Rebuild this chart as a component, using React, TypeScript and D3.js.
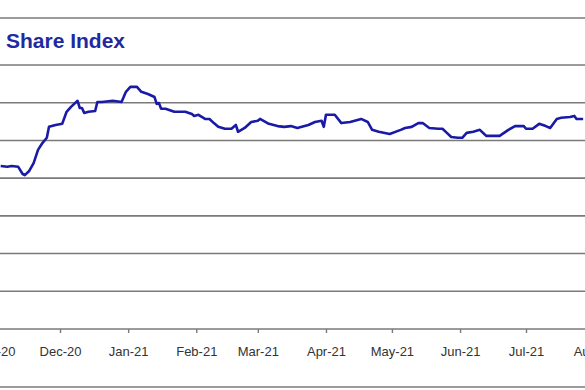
import React, { useEffect, useRef } from "react";
import * as d3 from "d3";

// share index (date, value)
const dates = [
  "2020-11-04", "2020-11-07", "2020-11-09", "2020-11-12", "2020-11-14", "2020-11-15",
  "2020-11-17", "2020-11-19", "2020-11-21", "2020-11-23", "2020-11-25", "2020-11-26",
  "2020-11-29", "2020-12-02", "2020-12-04", "2020-12-06", "2020-12-09", "2020-12-10",
  "2020-12-11", "2020-12-12", "2020-12-14", "2020-12-17", "2020-12-18", "2020-12-20",
  "2020-12-25", "2020-12-29", "2020-12-31", "2021-01-02", "2021-01-05", "2021-01-07",
  "2021-01-10", "2021-01-13", "2021-01-14", "2021-01-15", "2021-01-16", "2021-01-18",
  "2021-01-22", "2021-01-27", "2021-01-30", "2021-01-31", "2021-02-02", "2021-02-05",
  "2021-02-07", "2021-02-09", "2021-02-11", "2021-02-14", "2021-02-17", "2021-02-19",
  "2021-02-20", "2021-02-23", "2021-02-26", "2021-03-01", "2021-03-02", "2021-03-06",
  "2021-03-10", "2021-03-13", "2021-03-16", "2021-03-19", "2021-03-21", "2021-03-24",
  "2021-03-27", "2021-03-30", "2021-03-31", "2021-04-01", "2021-04-05", "2021-04-08",
  "2021-04-12", "2021-04-17", "2021-04-20", "2021-04-22", "2021-04-25", "2021-04-30",
  "2021-05-05", "2021-05-07", "2021-05-10", "2021-05-13", "2021-05-15", "2021-05-18",
  "2021-05-22", "2021-05-24", "2021-05-26", "2021-05-28", "2021-05-31", "2021-06-02",
  "2021-06-04", "2021-06-07", "2021-06-10", "2021-06-12", "2021-06-13", "2021-06-19",
  "2021-06-23", "2021-06-26", "2021-06-30", "2021-07-01", "2021-07-04", "2021-07-07",
  "2021-07-10", "2021-07-12", "2021-07-15", "2021-07-17", "2021-07-21", "2021-07-23",
  "2021-07-24", "2021-07-27",
];
const values = [
  6160, 6150, 6160, 6150, 6055, 6040,
  6095, 6200, 6375, 6465, 6535, 6680,
  6705, 6720, 6880, 6945, 7025, 6930,
  6930, 6865, 6880, 6890, 7010, 7010,
  7025, 7010, 7145, 7210, 7210, 7145,
  7115, 7075, 6985, 6995, 6920, 6920,
  6880, 6880, 6850, 6825, 6840, 6785,
  6785, 6730, 6680, 6655, 6655, 6705,
  6615, 6665, 6745, 6760, 6785, 6720,
  6690, 6680, 6690, 6665, 6680, 6705,
  6745, 6760, 6680, 6840, 6840, 6730,
  6745, 6785, 6745, 6640, 6615, 6585,
  6640, 6665, 6680, 6730, 6730, 6665,
  6655, 6655, 6600, 6545, 6535, 6535,
  6600, 6615, 6640, 6585, 6560, 6560,
  6640, 6690, 6690, 6655, 6655, 6720,
  6690, 6665, 6785, 6800, 6810, 6825,
  6785, 6785,
];
const gridValues = [4000, 4500, 5000, 5500, 6000, 6500, 7000, 7500];
const title = "Share Index";

const W = 585;
const H = 390;

export default function App() {
  const ref = useRef<SVGSVGElement>(null);

  useEffect(() => {
    const svg = d3.select(ref.current);
    svg.selectAll("*").remove();

    const parse = d3.utcParse("%Y-%m-%d");
    const data = dates.map((d, i) => ({ date: parse(d) as Date, value: values[i] }));

    const x = d3.scaleUtc()
      .domain([new Date(Date.UTC(2020, 11, 1)), new Date(Date.UTC(2021, 6, 1))])
      .range([60, 526]);
    const y = d3.scaleLinear().domain([4000, 7500]).range([329, 65]);

    svg.append("rect").attr("width", W).attr("height", H).attr("fill", "#fff");

    // frame lines
    [18, 387].forEach(v => {
      svg.append("line")
        .attr("x1", 0).attr("x2", W)
        .attr("y1", v).attr("y2", v)
        .attr("stroke", "#7a7a7a").attr("stroke-width", 1.6);
    });

    svg.append("text")
      .attr("x", 6)
      .attr("y", 48)
      .attr("fill", "#1f2aa0")
      .style("font-family", "Liberation Sans, Arial, sans-serif")
      .style("font-size", "21px")
      .style("font-weight", "bold")
      .text(title);

    svg.append("g")
      .selectAll("line")
      .data(gridValues)
      .enter()
      .append("line")
      .attr("x1", 0).attr("x2", W)
      .attr("y1", d => y(d)).attr("y2", d => y(d))
      .attr("stroke", "#7a7a7a")
      .attr("stroke-width", 1.6);

    const ticks = d3.utcMonth.range(new Date(Date.UTC(2020, 10, 1)), new Date(Date.UTC(2021, 8, 1)));
    const axis = d3.axisBottom(x)
      .tickValues(ticks)
      .tickSize(4)
      .tickPadding(14)
      .tickFormat(d => d3.utcFormat("%b-%y")(d as Date));
    const g = svg.append("g").attr("transform", `translate(0,${y(4000)})`).call(axis);
    g.select(".domain").remove();
    g.selectAll(".tick line").attr("stroke", "#7a7a7a").attr("stroke-width", 1.4);
    g.selectAll(".tick text")
      .attr("fill", "#333")
      .style("font-family", "Liberation Sans, Arial, sans-serif")
      .style("font-size", "13px");

    const line = d3.line<{ date: Date; value: number }>()
      .x(d => x(d.date))
      .y(d => y(d.value));

    svg.append("path")
      .datum(data)
      .attr("d", line)
      .attr("fill", "none")
      .attr("stroke", "#1a1aa6")
      .attr("stroke-width", 2.6)
      .attr("stroke-linejoin", "round");
  }, []);

  return (
    <svg
      ref={ref}
      width={W}
      height={H}
      style={{ position: "absolute", left: 0, top: 0 }}
    />
  );
}
